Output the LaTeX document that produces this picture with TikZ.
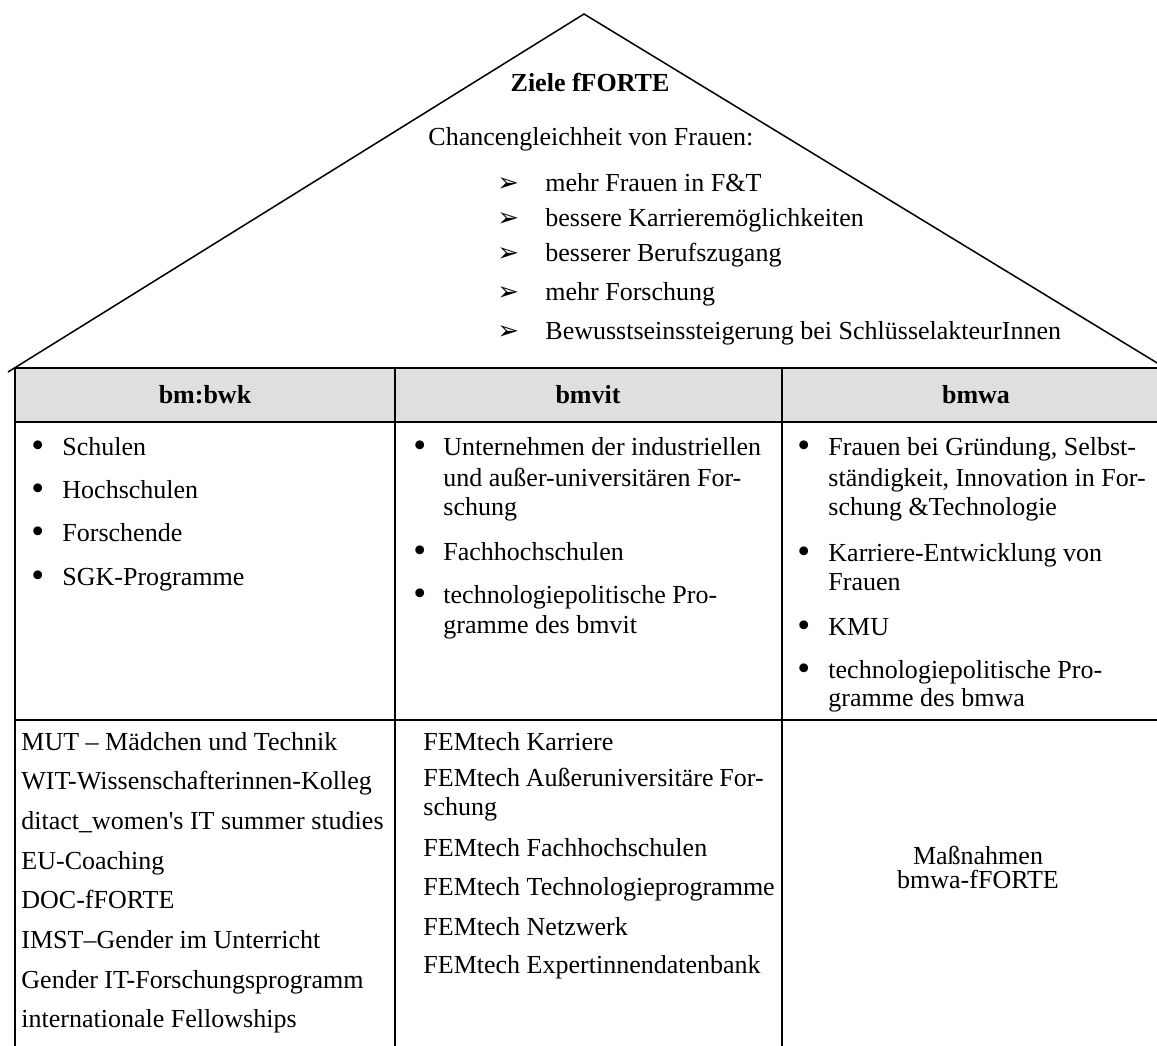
\documentclass[tikz,border=0pt]{standalone}
\usepackage{fontspec}
\setmainfont{Liberation Serif}
\newfontfamily\symfont{DejaVu Sans}
\definecolor{headgray}{HTML}{DFDFDF}
\tikzset{
  txt/.style={anchor=base west, inner sep=0pt, font=\fontsize{12}{14}\selectfont},
  ctxt/.style={anchor=base, inner sep=0pt, font=\fontsize{12}{14}\selectfont},
  head/.style={ctxt, font=\fontsize{12}{14}\selectfont\bfseries},
  blt/.style={anchor=base west, inner sep=0pt, font=\fontsize{17}{14}\selectfont},
  arw/.style={anchor=base west, inner sep=0pt, font=\symfont\fontsize{12}{12}\selectfont},
  roof/.style={line width=0.7pt},
  grid/.style={line width=0.95pt},
}

\begin{document}
\begin{tikzpicture}[x=0.4615pt, y=-0.4615pt]
  \useasboundingbox (0,0) rectangle (1157,1045);
  \clip (0,0) rectangle (1157,1045);
  % roof
  \coordinate (apex) at (584,14);
  \coordinate (eaveL) at (8,372);
  \coordinate (eaveR) at (1172,372);
  \draw[roof] (eaveL) -- (apex) -- (eaveR);
  % table
  \coordinate (tl) at (15,368);
  \coordinate (tr) at (1170,368);
  \coordinate (bl) at (15,1060);
  \coordinate (br) at (1170,1060);
  \fill[headgray] (tl) rectangle (1170,422);
  \draw[grid] (bl) -- (tl) -- (tr) -- (br)
    (15,422) -- (1170,422) (15,720) -- (1170,720)
    (395,368) -- (395,1060) (782,368) -- (782,1060);
  % goals
  \node[head] (goal) at (590,91) {Ziele fFORTE};
  \node[txt] (chance) at (428,145) {Chancengleichheit von Frauen:};
  \foreach \y/\t [count=\i] in {191/mehr Frauen in F\&T, 226/bessere Karrieremöglichkeiten,
      261/besserer Berufszugang, 300/mehr Forschung, 339/Bewusstseinssteigerung bei SchlüsselakteurInnen}{
    \node[arw] (a\i) at (497,\y) {➢};
    \node[txt] (g\i) at (545,\y) {\t};
  }
  % header
  \node[head] (bmbwk) at (205,403) {bm:bwk};
  \node[head] (bmvit) at (588,403) {bmvit};
  \node[head] (bmwa) at (976,403) {bmwa};
  % target groups
  \foreach \y/\t [count=\i] in {455/Schulen, 498/Hochschulen, 541/Forschende, 585/SGK-Programme}{
    \node[blt] (lb\i) at (31,\y+2) {•};
    \node[txt] (l\i) at (62,\y) {\t};
  }
  \foreach \y [count=\i] in {455,560,603}{
    \node[blt] (mb\i) at (413,\y+2) {•};
  }
  \foreach \y/\t [count=\i] in {455/Unternehmen der industriellen, 486/und außer-universitären For-,
      515/schung, 560/Fachhochschulen, 603/technologiepolitische Pro-, 633/gramme des bmvit}{
    \node[txt] (m\i) at (443,\y) {\t};
  }
  \foreach \y [count=\i] in {455,561,635,678}{
    \node[blt] (rb\i) at (797,\y+2) {•};
  }
  \foreach \y/\t [count=\i] in {455/{Frauen bei Gründung, Selbst-}, 486/{ständigkeit, Innovation in For-},
      515/schung \&Technologie, 561/Karriere-Entwicklung von, 590/Frauen, 635/KMU,
      678/technologiepolitische Pro-, 706/gramme des bmwa}{
    \node[txt] (r\i) at (828,\y) {\t};
  }
  % measures
  \foreach \t [count=\i] in {MUT – Mädchen und Technik, WIT-Wissenschafterinnen-Kolleg,
      ditact\_women\textquotesingle s IT summer studies, EU-Coaching, DOC-fFORTE, IMST–Gender im Unterricht,
      Gender IT-Forschungsprogramm, internationale Fellowships}{
    \node[txt] (p\i) at (21,{750+39.7*(\i-1)}) {\t};
  }
  \foreach \y/\t [count=\i] in {750/FEMtech Karriere, 786/\makebox[157pt][s]{FEMtech Außeruniversitäre For-},
      815/schung, 856/FEMtech Fachhochschulen, 895/FEMtech Technologieprogramme,
      935/FEMtech Netzwerk, 973/FEMtech Expertinnendatenbank}{
    \node[txt] (f\i) at (423,\y) {\t};
  }
  \node[ctxt] (mass) at (978,864) {Maßnahmen};
  \node[ctxt] (massb) at (978,888) {bmwa-fFORTE};
\end{tikzpicture}
\end{document}
